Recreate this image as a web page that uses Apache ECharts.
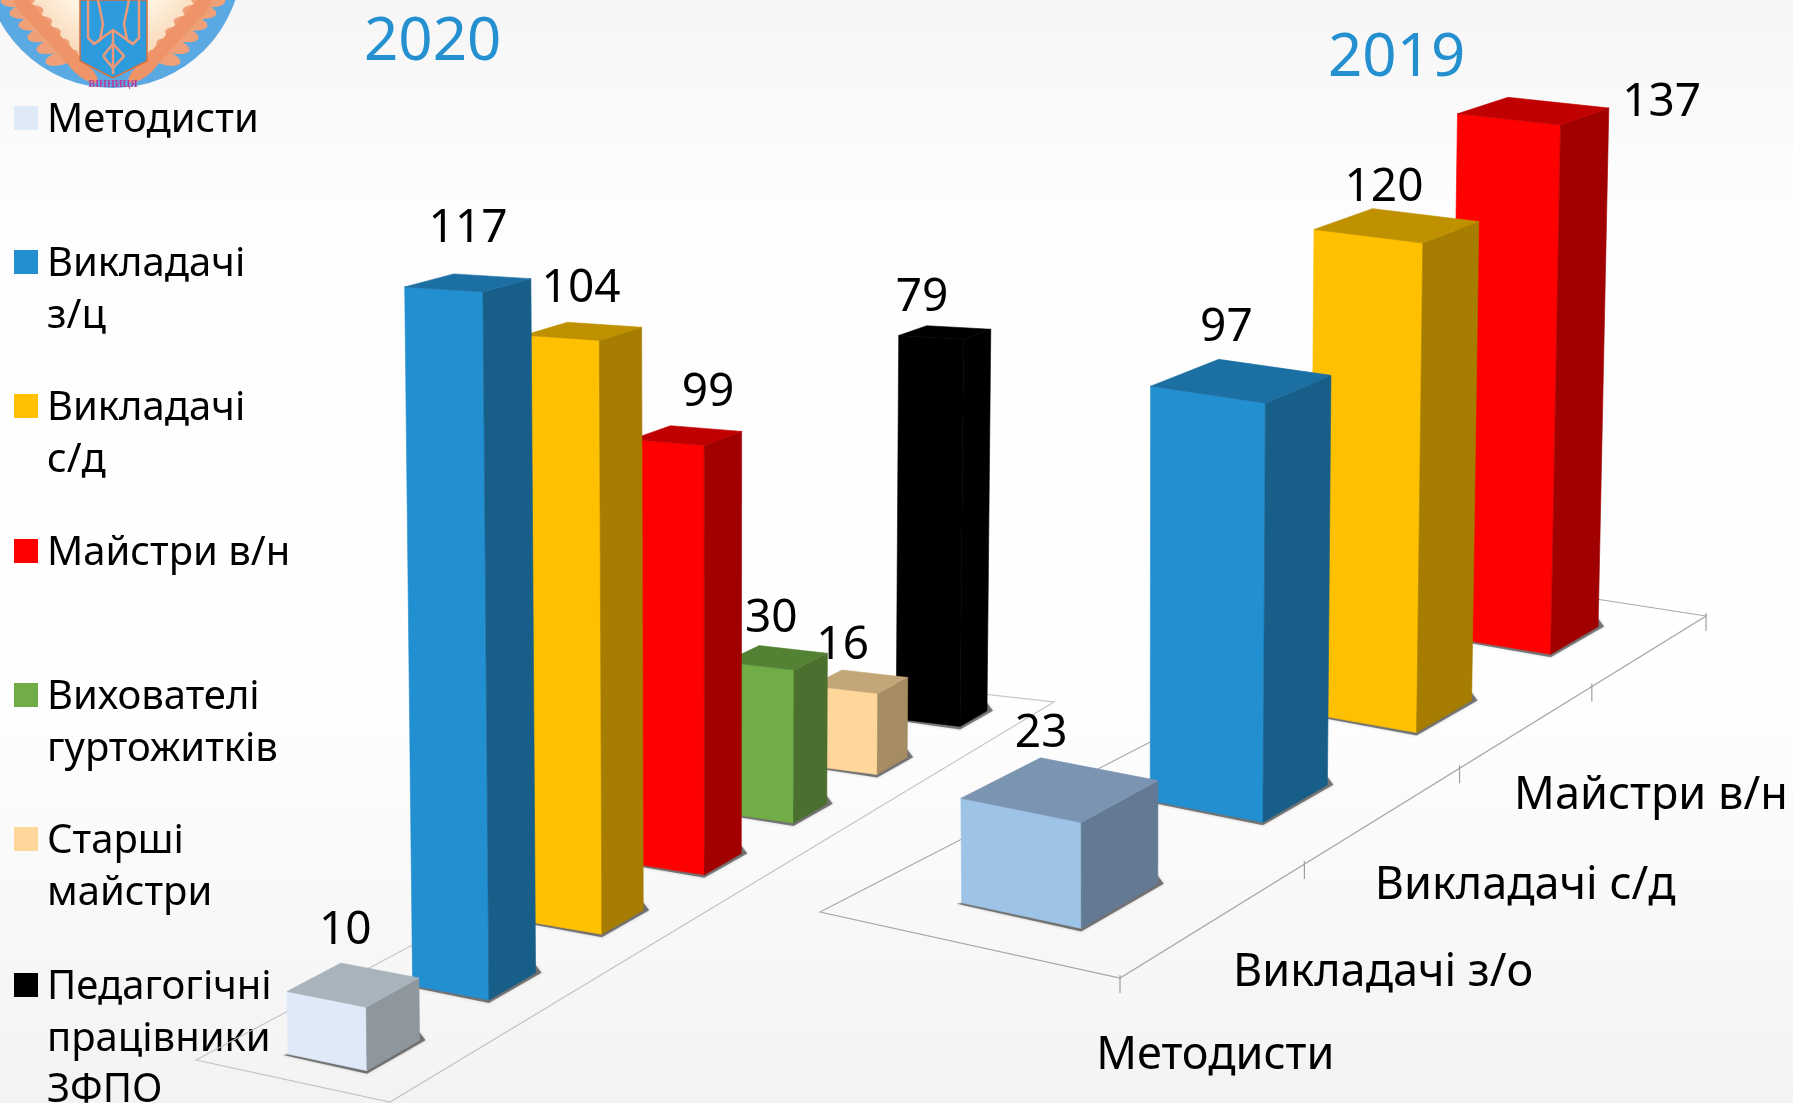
<!DOCTYPE html>
<html>
<head>
<meta charset="utf-8">
<style>
  html, body { margin: 0; padding: 0; background: #fff; }
  #chart { width: 1793px; height: 1103px; }
</style>
<script src="https://cdn.jsdelivr.net/npm/echarts@6/dist/echarts.min.js"></script>
</head>
<body>
<div id="chart"></div>
<script>
// дані 2020
const categories2020 = ['Методисти', 'Викладачі з/ц', 'Викладачі с/д', 'Майстри в/н', 'Вихователі гуртожитків', 'Старші майстри', 'Педагогічні працівники ЗФПО'];
const values2020 = [10, 117, 104, 99, 30, 16, 79];
// висоти стовпців як на картинці: стовпець "99" намальовано нижче за свій підпис (приблизно 78)
const heights2020 = [10, 117, 103, 78, 29, 16, 80];

// дані 2019
const categories2019 = ['Методисти', 'Викладачі з/о', 'Викладачі с/д', 'Майстри в/н'];
const values2019 = [23, 97, 120, 137];

// легенда
const legendLines = [['Методисти'], ['Викладачі', 'з/ц'], ['Викладачі', 'с/д'], ['Майстри в/н'], ['Вихователі', 'гуртожитків'], ['Старші', 'майстри'], ['Педагогічні', 'працівники', 'ЗФПО']];
const legendColors = ['#DEEAF8', '#228FD0', '#FFC000', '#FF0000', '#70AD47', '#FFD79A', '#000000'];
const legendY = [118, 262, 406, 551, 695, 839, 985];

// кольори граней: передня, бічна, верхня
const faces2020 = [
  ['#DEEAF8', '#8E979E', '#A8B3BB'],
  ['#228FD0', '#175E88', '#1C6FA3'],
  ['#FFC000', '#A67D00', '#BF9000'],
  ['#FF0000', '#A00000', '#C00000'],
  ['#70AD47', '#4A6F2E', '#548235'],
  ['#FFD79A', '#A58C63', '#C3A678'],
  ['#000000', '#000000', '#000000']
];
const faces2019 = [
  ['#9DC3E6', '#647A94', '#7A94B2'],
  ['#228FD0', '#175E88', '#1C6FA3'],
  ['#FFC000', '#A67D00', '#BF9000'],
  ['#FF0000', '#A00000', '#C00000']
];

// зсув підпису значення від центру верхньої грані
const labelOffset2020 = [[-8, -54], [0, -54], [-2, -42], [21, -43], [-5, -39], [-17, -36], [-23, -35]];
const labelOffset2019 = [[-19, -56], [-15, -53], [-13, -38], [128, -8]];
const categoryOffset2019 = [[-1, 138], [-2, 159], [-3, 160], [0, 146]];
// дрібна поправка положення стовпця вздовж осі
const depthNudge2020 = [0.012, 0.003, 0, 0, -0.004, -0.002, 0.015];
const depthNudge2019 = [0, 0, 0, 0.005];

const FONT = '"Noto Sans", sans-serif';

// перспектива підлоги: чотирикутник на екрані
function makeHomography(p) {
  const [x0, y0] = p[0], [x1, y1] = p[1], [x2, y2] = p[2], [x3, y3] = p[3];
  const dx1 = x1 - x2, dx2 = x3 - x2, sx = x0 - x1 + x2 - x3;
  const dy1 = y1 - y2, dy2 = y3 - y2, sy = y0 - y1 + y2 - y3;
  const den = dx1 * dy2 - dx2 * dy1;
  const g = (sx * dy2 - dx2 * sy) / den;
  const h = (dx1 * sy - sx * dy1) / den;
  const a = x1 - x0 + g * x1, b = x3 - x0 + h * x3;
  const d = y1 - y0 + g * y1, e = y3 - y0 + h * y3;
  return function (u, v) {
    const w = g * u + h * v + 1;
    return { x: (a * u + b * v + x0) / w, y: (d * u + e * v + y0) / w, w: w };
  };
}

const view2020 = {
  floor: makeHomography([[196, 1060], [902, 685], [1054, 702], [390, 1102]]),
  vMin: 0.31, vMax: 0.72, uShift: -0.022, barRatio: 0.39, k: 1.255, p: 0.8, x0: 719, lean: 3.7e-5,
  lineColor: '#c4c4c4', ticks: false, nudge: depthNudge2020
};
const view2019 = {
  floor: makeHomography([[820, 912], [1467, 579], [1706, 616], [1120, 978]]),
  vMin: 0.305, vMax: 0.71, uShift: -0.012, barRatio: 0.40, k: 0.915, p: 0.72, x0: 1130, lean: 4.4e-5,
  lineColor: '#a8a8a8', ticks: true, nudge: depthNudge2019
};

function lift(view, pt, flat) {
  const h = flat * view.k / Math.pow(pt.w, view.p);
  return [pt.x + h * (pt.x - view.x0) * view.lean, pt.y - h];
}

function face(points, color, z) {
  return {
    type: 'polygon', z2: z, shape: { points: points },
    style: { fill: color, stroke: color, lineWidth: 0.6 }
  };
}

// кубоїд стовпця
function renderBar(view, faces, labels, offsets) {
  return function (params, api) {
    const i = api.value(0);
    const cs = params.coordSys;
    const base = api.coord([i, 0]);
    const top = api.coord([i, api.value(1)]);
    const band = api.size([1, 0])[0];
    const flat = base[1] - top[1];
    const shift = view.uShift + view.nudge[i];
    const u0 = (base[0] - band * view.barRatio / 2 - cs.x) / cs.width + shift;
    const u1 = (base[0] + band * view.barRatio / 2 - cs.x) / cs.width + shift;
    const a = view.floor(u0, view.vMin), b = view.floor(u1, view.vMin);
    const c = view.floor(u1, view.vMax), d = view.floor(u0, view.vMax);
    const ta = lift(view, a, flat), tb = lift(view, b, flat);
    const tc = lift(view, c, flat), td = lift(view, d, flat);
    const z = 10 + (faces.length - i) * 5;
    const off = offsets[i];
    const cx = (ta[0] + tb[0] + tc[0] + td[0]) / 4, cy = (ta[1] + tb[1] + tc[1] + td[1]) / 4;
    return {
      type: 'group',
      children: [
        {
          type: 'polygon', z2: z,
          shape: { points: [[a.x - 5, a.y + 1], [d.x, d.y + 3], [c.x + 6, c.y + 0], [c.x, c.y - 8]] },
          style: { fill: 'rgba(50,50,50,0.6)', shadowBlur: 3, shadowColor: 'rgba(50,50,50,0.4)' }
        },
        face([[a.x, a.y], [d.x, d.y], td, ta], faces[i][0], z + 1),
        face([[d.x, d.y], [c.x, c.y], tc, td], faces[i][1], z + 1),
        face([ta, tb, tc, td], faces[i][2], z + 1),
        {
          type: 'text', z2: 200,
          style: {
            text: String(labels[i]), x: cx + off[0], y: cy + off[1],
            font: '46px ' + FONT, fill: '#000', align: 'center', verticalAlign: 'middle'
          }
        }
      ]
    };
  };
}

// контур підлоги і позначки
function renderFloor(view, count) {
  return function () {
    const corners = [view.floor(0, 0), view.floor(1, 0), view.floor(1, 1), view.floor(0, 1)].map(p => [p.x, p.y]);
    const children = [{
      type: 'polygon', z2: 1,
      shape: { points: corners },
      style: { fill: 'none', stroke: view.lineColor, lineWidth: 1.2 }
    }];
    if (view.ticks) {
      for (let i = 0; i <= count; i++) {
        const p = view.floor(i / count, 1);
        children.push({
          type: 'line', z2: 1,
          shape: { x1: p.x, y1: p.y - 3, x2: p.x, y2: p.y + 15 },
          style: { stroke: '#a0a0a0', lineWidth: 1.2 }
        });
      }
    }
    return { type: 'group', children: children };
  };
}

// підписи категорій 2019 вздовж краю
function renderCategory(params, api) {
  const i = api.value(0);
  const cs = params.coordSys;
  const u = (api.coord([i, 0])[0] - cs.x) / cs.width;
  const p = view2019.floor(u, 1);
  return {
    type: 'text', z2: 200,
    style: {
      text: categories2019[i], x: p.x + categoryOffset2019[i][0], y: p.y + categoryOffset2019[i][1],
      font: '45px ' + FONT, fill: '#000', align: 'center', verticalAlign: 'middle'
    }
  };
}

// емблема у лівому верхньому куті
function logoElements() {
  const els = [
    { type: 'circle', shape: { cx: 113, cy: -41, r: 129 }, style: { fill: '#5BA9E2' } },
    {
      type: 'circle', shape: { cx: 113, cy: -41, r: 108 },
      style: {
        fill: new echarts.graphic.RadialGradient(0.5, 0.5, 0.5, [
          { offset: 0.5, color: '#FFF6E6' }, { offset: 1, color: '#F8D3B0' }
        ])
      }
    }
  ];
  // колоски
  [-1, 1].forEach(side => {
    for (let t = 0; t < 7; t++) {
      const cx = 113 + side * (42 + t * 9), cy = 60 - t * 11;
      els.push({
        type: 'ellipse', originX: cx, originY: cy, rotation: side * (0.7 + t * 0.05),
        shape: { cx: cx - side * 14, cy: cy, rx: 20, ry: 7 },
        style: { fill: '#EE9468' }
      });
      els.push({
        type: 'ellipse', originX: cx, originY: cy, rotation: -side * (0.3 - t * 0.05),
        shape: { cx: cx + side * 8, cy: cy - 5, rx: 17, ry: 7 },
        style: { fill: '#F0A078' }
      });
    }
  });
  els.push({
    type: 'polygon', shape: { points: [[80, 0], [147, 0], [147, 61], [113, 78], [80, 61]] },
    style: { fill: '#2E9BDC', stroke: '#D8703F', lineWidth: 1.5 }
  });
  // тризуб
  const trident = [
    [[88, 0], [88, 38], [94, 44], [100, 40], [103, 24], [98, 0]],
    [[139, 0], [139, 38], [133, 44], [127, 40], [124, 24], [129, 0]],
    [[94, 44], [113, 30], [133, 44]],
    [[113, 30], [113, 74]],
    [[103, 56], [113, 44], [124, 56], [113, 68], [103, 56]]
  ];
  trident.forEach(points => {
    els.push({
      type: 'polyline', shape: { points: points },
      style: { fill: 'none', stroke: '#EC9A78', lineWidth: 2.5 }
    });
  });
  els.push({
    type: 'text',
    style: { text: 'ВІННИЦЯ', x: 113, y: 84, font: 'bold 10px "Liberation Serif", serif', fill: '#B8399C', align: 'center', verticalAlign: 'middle' }
  });
  return els;
}

function legendElements() {
  const els = [];
  legendLines.forEach((lines, i) => {
    els.push({ type: 'rect', shape: { x: 14, y: legendY[i] - 12, width: 24, height: 24 }, style: { fill: legendColors[i] } });
    els.push({
      type: 'text',
      style: {
        text: lines.join('\n'), x: 47, y: legendY[i] - 23, lineHeight: 51.5,
        font: '40px ' + FONT, fill: '#000', align: 'left', verticalAlign: 'top'
      }
    });
  });
  return els;
}

const chart = echarts.init(document.getElementById('chart'));

const option = {
  animation: false,
  backgroundColor: {
    type: 'linear', x: 0, y: 0, x2: 0, y2: 1,
    colorStops: [
      { offset: 0, color: '#f6f6f6' },
      { offset: 0.18, color: '#fdfdfd' },
      { offset: 0.6, color: '#ffffff' },
      { offset: 1, color: '#f3f3f3' }
    ]
  },
  title: [
    { text: '2020', left: 359, top: 8, textStyle: { color: '#2590D0', fontSize: 60, fontWeight: 'normal', fontFamily: FONT } },
    { text: '2019', left: 1323, top: 24, textStyle: { color: '#2590D0', fontSize: 60, fontWeight: 'normal', fontFamily: FONT } }
  ],
  // приховані плоскі сітки: шкали дають позицію і висоту, далі перспектива
  grid: [
    { left: 200, top: 100, width: 850, height: 700 },
    { left: 820, top: 100, width: 880, height: 700 }
  ],
  xAxis: [
    { gridIndex: 0, type: 'category', data: categories2020, show: false },
    { gridIndex: 1, type: 'category', data: categories2019, show: false }
  ],
  yAxis: [
    { gridIndex: 0, type: 'value', min: 0, max: 140, show: false },
    { gridIndex: 1, type: 'value', min: 0, max: 140, show: false }
  ],
  graphic: { elements: logoElements().concat(legendElements()) },
  series: [
    {
      type: 'custom', name: 'floor2020', xAxisIndex: 0, yAxisIndex: 0, silent: true, z: 1,
      renderItem: renderFloor(view2020, categories2020.length), data: [[0, 0]]
    },
    {
      type: 'custom', name: 'floor2019', xAxisIndex: 1, yAxisIndex: 1, silent: true, z: 1,
      renderItem: renderFloor(view2019, categories2019.length), data: [[0, 0]]
    },
    {
      type: 'custom', name: '2020', xAxisIndex: 0, yAxisIndex: 0, z: 2,
      renderItem: renderBar(view2020, faces2020, values2020, labelOffset2020),
      data: heights2020.map((v, i) => [i, v])
    },
    {
      type: 'custom', name: '2019', xAxisIndex: 1, yAxisIndex: 1, z: 3,
      renderItem: renderBar(view2019, faces2019, values2019, labelOffset2019),
      data: values2019.map((v, i) => [i, v])
    },
    {
      type: 'custom', name: 'categories2019', xAxisIndex: 1, yAxisIndex: 1, silent: true, z: 4,
      renderItem: renderCategory,
      data: values2019.map((v, i) => [i, 0])
    }
  ]
};

chart.setOption(option);
</script>
</body>
</html>
